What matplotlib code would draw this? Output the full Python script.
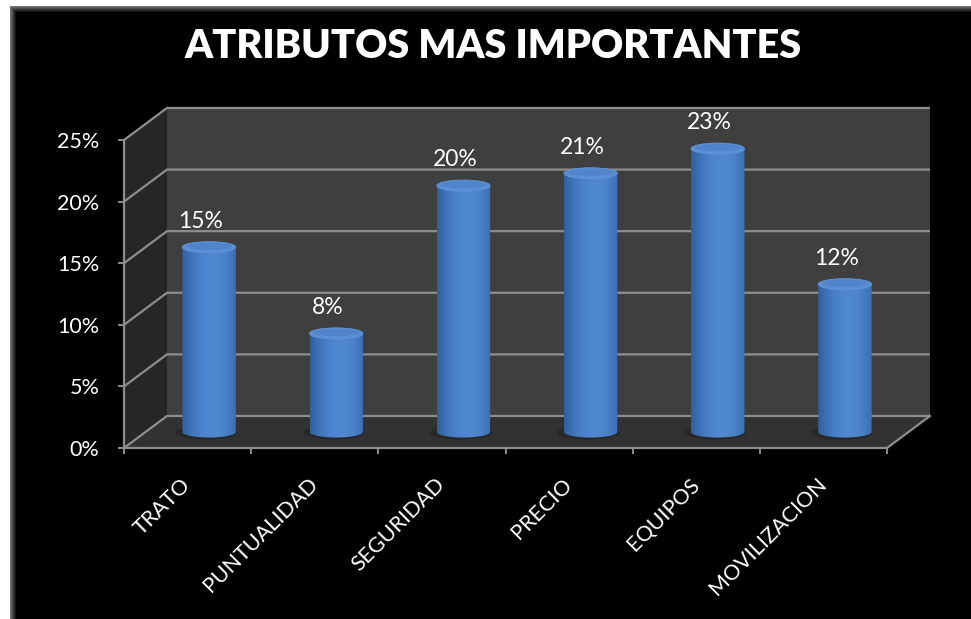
import numpy as np
import matplotlib
matplotlib.use('Agg')
import matplotlib.pyplot as plt
from matplotlib.patches import Polygon, Ellipse, PathPatch
from matplotlib.path import Path
from matplotlib.colors import LinearSegmentedColormap

categories = ['TRATO', 'PUNTUALIDAD', 'SEGURIDAD', 'PRECIO', 'EQUIPOS', 'MOVILIZACION']
values = [15, 8, 20, 21, 23, 12]
y_ticks = [0, 5, 10, 15, 20, 25]
y_tick_labels = ['0%', '5%', '10%', '15%', '20%', '25%']
title = 'ATRIBUTOS MAS IMPORTANTES'

plt.rcParams['font.family'] = ['Lato', 'DejaVu Sans']

W, H = 971, 619
fig = plt.figure(figsize=(W / 100, H / 100), dpi=100)
fig.patch.set_facecolor('white')

# black panel with a soft grey edge on the top and left
bg = fig.add_axes([0, 0, 1, 1])
px = np.arange(W)[np.newaxis, :]
py = np.arange(H)[:, np.newaxis]
edge_x = np.clip(1 - (px - 10) / 6.0, 0, 1) * 0.45
edge_y = np.clip(1 - (py - 6) / 6.0, 0, 1) * 0.45
shade = np.maximum(edge_x, edge_y)
shade = np.where((px < 10) | (py < 6), 1.0, shade)
bg.imshow(shade, cmap='gray', vmin=0, vmax=1, extent=[0, W, H, 0], aspect='auto')
bg.set_xlim(0, W)
bg.set_ylim(H, 0)
bg.axis('off')

ax = fig.add_axes([124 / W, (H - 448) / H, 763 / W, 308 / H])
ax.set_facecolor('none')

n = len(categories)
DX, DY = 0.338, 2.6       # depth offset of the back wall (categories, percent)
top_val = y_ticks[-1]
grid_col = '#8e8e8e'

# walls and floor
ax.add_patch(Polygon([(DX, DY), (n + DX, DY), (n + DX, top_val + DY), (DX, top_val + DY)],
                     closed=True, facecolor='#3f3f3f', edgecolor='none', zorder=0.5, clip_on=False))
ax.add_patch(Polygon([(0, 0), (DX, DY), (DX, top_val + DY), (0, top_val)],
                     closed=True, facecolor='#262626', edgecolor='none', zorder=0.6, clip_on=False))
ax.add_patch(Polygon([(0, 0), (n, 0), (n + DX, DY), (DX, DY)],
                     closed=True, facecolor='#323232', edgecolor='none', zorder=0.6, clip_on=False))

for t in y_ticks:
    ax.plot([0, DX, n + DX], [t, t + DY, t + DY], color=grid_col, lw=1.6,
            zorder=1, clip_on=False, solid_capstyle='butt')
ax.plot([n, n + DX], [0, DY], color=grid_col, lw=1.6, zorder=1, clip_on=False)

for side in ['top', 'right']:
    ax.spines[side].set_visible(False)
for side in ['left', 'bottom']:
    ax.spines[side].set_color(grid_col)
    ax.spines[side].set_linewidth(1.6)

ax.set_yticks(y_ticks)
ax.set_yticklabels(y_tick_labels)
ax.tick_params(axis='y', color=grid_col, labelcolor='white', length=4.3, width=1.4,
               pad=13.5, labelsize=15.5)

ax.set_xticks(np.arange(n + 1))
ax.set_xticklabels([])
ax.set_xticks(np.arange(n) + 0.5, minor=True)
ax.set_xticklabels(categories, minor=True)
ax.tick_params(axis='x', which='major', color=grid_col, length=4.3, width=1.4)
ax.tick_params(axis='x', which='minor', length=0, labelcolor='white', labelsize=15.5, pad=24)
plt.setp(ax.get_xticklabels(minor=True), rotation=45, ha='right', va='center',
         rotation_mode='anchor')

# cylinders
body_cmap = LinearSegmentedColormap.from_list(
    'cyl', ['#30609f', '#4277bf', '#4d84ce', '#5089d2', '#4b82ca', '#3c6fb3'])
grad = np.linspace(0, 1, 64)[np.newaxis, :]
hw = 0.21
eh = 0.9
base = DY / 2
theta = np.linspace(np.pi, 2 * np.pi, 40)

for i, v in enumerate(values):
    cx = i + 0.5 + DX / 2
    top = v + DY / 2

    ax.add_patch(Ellipse((cx - 0.02, base - 0.05), 2 * hw + 0.07, eh + 0.25,
                         facecolor='#1c1c1c', edgecolor='none', alpha=0.45, zorder=2))

    verts = [(cx - hw, top), (cx - hw, base)]
    verts += list(zip(cx + hw * np.cos(theta), base + eh / 2 * np.sin(theta)))
    verts += [(cx + hw, top), (cx - hw, top)]
    clip = PathPatch(Path(verts), transform=ax.transData, facecolor='none', edgecolor='none')
    ax.add_patch(clip)
    img = ax.imshow(grad, cmap=body_cmap, extent=[cx - hw, cx + hw, base - eh / 2, top],
                    aspect='auto', zorder=3, interpolation='bilinear')
    img.set_clip_path(clip)

    ax.add_patch(Ellipse((cx, top), 2 * hw, eh, facecolor='#5b8fd4',
                         edgecolor='#5f94d8', lw=0.6, zorder=4))
    ax.add_patch(Ellipse((cx, top + 0.08), 2 * hw - 0.06, eh - 0.3, facecolor='#5085cc',
                         edgecolor='none', zorder=4.1))

    ax.annotate(f'{v}%', (cx, top + eh / 2), xytext=(-6, 7), textcoords='offset points',
                ha='center', va='bottom', color='white', fontsize=16.5, zorder=5)

ax.set_xlim(0, n)
ax.set_ylim(0, top_val)

fig.text(493 / W, 1 - 47 / H, title, ha='center', va='center', color='white',
         fontsize=28.5, fontweight='heavy')

fig.savefig('out.png', dpi=100, facecolor=fig.get_facecolor())
